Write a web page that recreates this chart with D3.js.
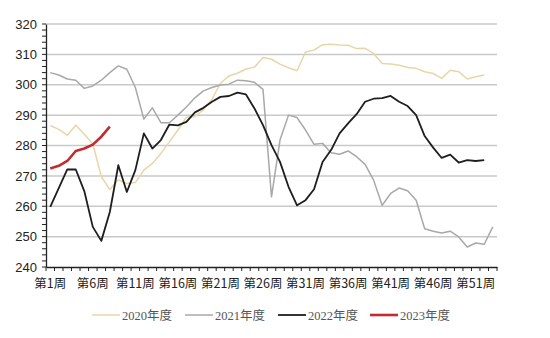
<!DOCTYPE html>
<html><head><meta charset="utf-8">
<script src="https://cdn.jsdelivr.net/npm/d3@7"></script>
<style>body{margin:0;background:#fff}</style>
</head><body>
<svg id="c" width="550" height="338"></svg>
<script>
const weeks = d3.range(1, 54).map(i => "第" + i + "周");
const tickLabels = ["第1周","第6周","第11周","第16周","第21周","第26周","第31周","第36周","第41周","第46周","第51周"];
const yTicks = [240,250,260,270,280,290,300,310,320];
const seriesNames = ["2020年度","2021年度","2022年度","2023年度"];
const v2020 = [286.6,285.3,283.4,286.7,283.7,280.5,269.8,265.5,268.7,267.5,267.8,271.9,274.1,277.4,281.2,285.1,289.3,289.5,291.8,295.2,300.5,302.9,303.8,305.2,305.8,309.0,308.4,306.8,305.6,304.6,310.8,311.4,313.2,313.3,313.1,313.0,311.9,312.0,310.3,307.0,306.8,306.4,305.7,305.4,304.3,303.7,302.1,304.8,304.3,301.9,302.6,303.2];
const v2021 = [304.0,303.2,301.9,301.5,298.8,299.6,301.5,304.0,306.2,305.1,299.1,288.7,292.4,287.5,287.5,290.0,292.7,295.7,298.0,299.1,299.9,300.2,301.5,301.3,300.8,298.5,263.1,281.8,290.0,289.2,285.1,280.4,280.7,277.6,277.1,278.2,276.3,273.8,268.6,260.3,264.2,266.0,265.1,262.0,252.6,251.8,251.2,251.8,249.9,246.6,247.9,247.5,253.2];
const v2022 = [259.8,266.0,272.1,272.1,265.0,253.2,248.6,258.1,273.5,264.7,271.9,284.0,279.0,281.8,286.9,286.6,287.8,290.9,292.4,294.4,296.0,296.3,297.4,296.8,292.2,286.7,280.1,274.6,266.4,260.3,262.0,265.6,274.6,278.5,284.0,287.3,290.3,294.4,295.4,295.6,296.3,294.4,293.0,290.0,283.1,279.3,275.9,277.0,274.4,275.2,274.9,275.2];
const v2023 = [272.4,273.3,274.9,278.2,279.0,280.3,282.9,286.2];
const colors = ["#e8d6a8","#a8a8a8","#1e1e1e","#c32b2e"];
const widths = [1.5,1.5,1.8,2.6];

const svg = d3.select("#c");
const L = 46, R = 497, T = 24, B = 267;
const x = d3.scaleBand().domain(weeks).range([L, R]).padding(0);
const y = d3.scaleLinear().domain([240, 320]).range([B, T]);
const cx = i => x(weeks[i]) + x.bandwidth() / 2;

// gridlines
svg.append("g").selectAll("line").data(yTicks.slice(1)).join("line")
  .attr("x1", L).attr("x2", R).attr("y1", d => y(d)).attr("y2", d => y(d))
  .attr("stroke", "#c9c9c9").attr("stroke-width", 1.5);

// y axis
const yAxis = svg.append("g").attr("transform", `translate(${L},0)`)
  .call(d3.axisLeft(y).tickValues(yTicks).tickSize(0).tickPadding(9));
yAxis.select(".domain").attr("stroke", "#222").attr("stroke-width", 1.3);
yAxis.selectAll("text").attr("font-family", "Liberation Sans, Arial, sans-serif").attr("font-size", 13).attr("fill", "#222");
// y minor ticks
svg.append("g").selectAll("line").data(d3.range(240, 321, 2)).join("line")
  .attr("x1", L - 4).attr("x2", L).attr("y1", d => y(d)).attr("y2", d => y(d))
  .attr("stroke", "#222").attr("stroke-width", 1);

// x axis
const xAxis = svg.append("g").attr("transform", `translate(0,${B})`)
  .call(d3.axisBottom(x).tickValues(tickLabels).tickSize(0).tickPadding(12));
xAxis.select(".domain").attr("stroke", "#222").attr("stroke-width", 1.3);
xAxis.selectAll("text").attr("font-family", "Noto Sans CJK SC, sans-serif").attr("font-size", 12.5).attr("fill", "#222");
svg.append("g").selectAll("line").data(weeks.concat([null])).join("line")
  .attr("x1", (d, i) => L + i * x.bandwidth()).attr("x2", (d, i) => L + i * x.bandwidth())
  .attr("y1", B).attr("y2", B + 4).attr("stroke", "#222").attr("stroke-width", 1);

// lines
const line = d3.line().x((d, i) => cx(i)).y(d => y(d));
[v2020, v2021, v2022, v2023].forEach((vals, k) => {
  svg.append("path").datum(vals).attr("d", line).attr("fill", "none")
    .attr("stroke", colors[k]).attr("stroke-width", widths[k]).attr("stroke-linejoin", "round");
});

// legend
const legX = [92, 185, 278, 370];
const lg = svg.append("g");
seriesNames.forEach((n, k) => {
  lg.append("line").attr("x1", legX[k]).attr("x2", legX[k] + 28).attr("y1", 315).attr("y2", 315)
    .attr("stroke", colors[k]).attr("stroke-width", widths[k]);
  lg.append("text").attr("x", legX[k] + 30).attr("y", 319.5).text(n)
    .attr("font-family", "Liberation Serif, Noto Sans CJK SC, serif").attr("font-size", 12.5).attr("fill", "#555");
});
</script>
</body></html>
